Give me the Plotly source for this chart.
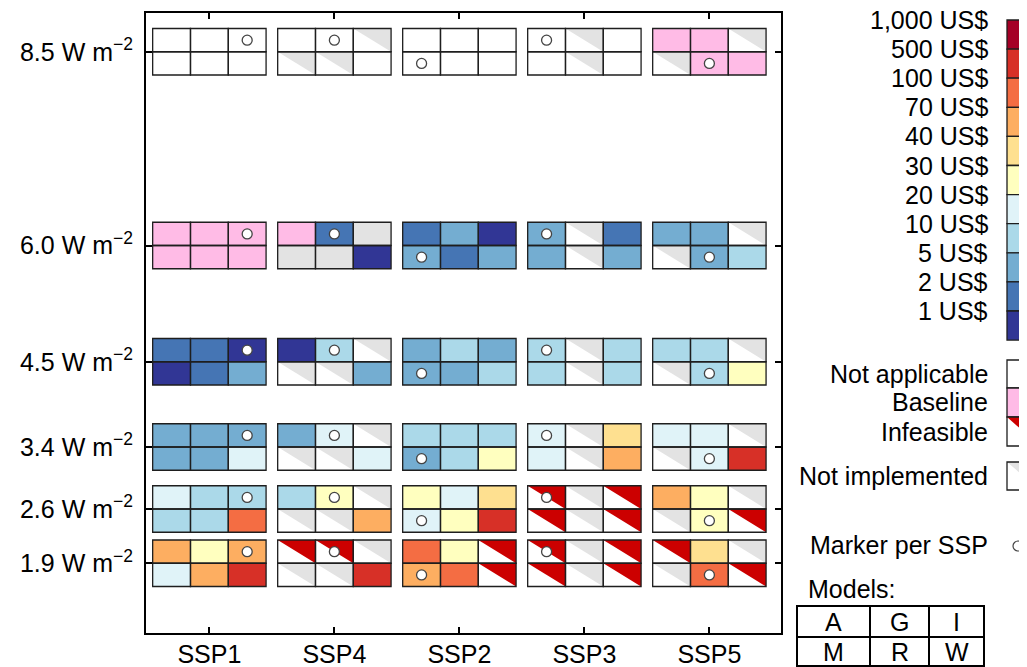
import plotly.graph_objects as go

# ---------------- data ----------------
ssps = ["SSP1", "SSP4", "SSP2", "SSP3", "SSP5"]
forcing = [8.5, 6.0, 4.5, 3.4, 2.6, 1.9]
forcing_labels = ["8.5 W m<sup>−2</sup>", "6.0 W m<sup>−2</sup>", "4.5 W m<sup>−2</sup>",
                  "3.4 W m<sup>−2</sup>", "2.6 W m<sup>−2</sup>", "1.9 W m<sup>−2</sup>"]
models = ["A", "G", "I", "M", "R", "W"]

price_labels = ["1,000 US$", "500 US$", "100 US$", "70 US$", "40 US$", "30 US$",
                "20 US$", "10 US$", "5 US$", "2 US$", "1 US$"]
price_bins = ["500-1000", "100-500", "70-100", "40-70", "30-40", "20-30",
              "10-20", "5-10", "2-5", "1-2", "<1"]
price_colors = ["#a50026", "#d73027", "#f46d43", "#fdae61", "#fee090", "#ffffbf",
                "#e0f3f8", "#abd9e9", "#74add1", "#4575b4", "#313695"]

# cell status per SSP (order of ssps), models A G I / M R W
# NA = not applicable, BL = baseline, IF = infeasible, NI = not implemented, NR = no result (grey)
cells_85 = [
    ["NA", "NA", "NA", "NA", "NA", "NA"],
    ["NA", "NA", "NI", "NI", "NI", "NA"],
    ["NA", "NA", "NA", "NA", "NA", "NA"],
    ["NA", "NI", "NA", "NA", "NI", "NA"],
    ["BL", "BL", "NI", "NI", "BL", "BL"],
]
cells_60 = [
    ["BL", "BL", "BL", "BL", "BL", "BL"],
    ["BL", "1-2", "NR", "NR", "NR", "<1"],
    ["1-2", "2-5", "<1", "2-5", "1-2", "2-5"],
    ["2-5", "NI", "1-2", "2-5", "NI", "2-5"],
    ["2-5", "2-5", "NI", "NI", "2-5", "5-10"],
]
cells_45 = [
    ["1-2", "1-2", "<1", "<1", "1-2", "2-5"],
    ["<1", "5-10", "NI", "NI", "NI", "2-5"],
    ["2-5", "5-10", "2-5", "2-5", "2-5", "5-10"],
    ["5-10", "NI", "5-10", "5-10", "NI", "5-10"],
    ["5-10", "5-10", "NI", "NI", "5-10", "20-30"],
]
cells_34 = [
    ["2-5", "2-5", "2-5", "2-5", "2-5", "10-20"],
    ["2-5", "10-20", "NI", "NI", "NI", "10-20"],
    ["5-10", "5-10", "5-10", "2-5", "5-10", "20-30"],
    ["10-20", "NI", "30-40", "10-20", "NI", "40-70"],
    ["10-20", "10-20", "NI", "NI", "10-20", "100-500"],
]
cells_26 = [
    ["10-20", "5-10", "5-10", "5-10", "5-10", "70-100"],
    ["5-10", "20-30", "NI", "NI", "NI", "40-70"],
    ["20-30", "10-20", "30-40", "10-20", "20-30", "100-500"],
    ["IF", "NI", "IF", "IF", "NI", "IF"],
    ["40-70", "20-30", "NI", "NI", "20-30", "IF"],
]
cells_19 = [
    ["40-70", "20-30", "40-70", "10-20", "40-70", "100-500"],
    ["IF", "IF", "NI", "NI", "NI", "100-500"],
    ["70-100", "20-30", "IF", "40-70", "70-100", "IF"],
    ["IF", "NI", "IF", "IF", "NI", "IF"],
    ["IF", "30-40", "NI", "NI", "70-100", "IF"],
]
marker_model = ["I", "G", "M", "A", "R"]  # marker scenario per SSP

all_cells = [cells_85, cells_60, cells_45, cells_34, cells_26, cells_19]

# ---------------- styles ----------------
CW = 0.3024   # cell width (x units)
CH = 0.30     # cell height (y units)
PINK = "#ffbbe6"
GREY = "#e3e3e3"
RED = "#cc0000"
EDGE = "#1e1e1e"
FONT = "Liberation Sans, Arial, Helvetica, sans-serif"
FS = 25

# page offset of the browser body (8 px) is compensated in the figure size/margins
OFF = 8
FIG_W, FIG_H = 1027 - OFF, 667 - OFF

color_of = dict(zip(price_bins, price_colors))
color_of.update({"NA": "white", "BL": PINK, "IF": "white", "NI": "white", "NR": GREY})

fills, tris, outlines = [], [], []
for fi, f in enumerate(forcing):
    for j, s in enumerate(ssps):
        codes = all_cells[fi][j]
        for k, code in enumerate(codes):
            c, r = k % 3, k // 3
            x0 = j - 1.5 * CW + c * CW
            x1 = x0 + CW
            y1 = f + CH if r == 0 else f
            y0 = y1 - CH
            fills.append(dict(type="rect", xref="x", yref="y", x0=x0, x1=x1, y0=y0, y1=y1,
                              fillcolor=color_of[code], line=dict(width=0), layer="below"))
            if code in ("IF", "NI"):
                tris.append(dict(type="path", xref="x", yref="y",
                                 path=f"M {x0},{y1} L {x1},{y1} L {x1},{y0} Z",
                                 fillcolor=RED if code == "IF" else GREY,
                                 line=dict(width=0), layer="below"))
            outlines.append(dict(type="rect", xref="x", yref="y", x0=x0, x1=x1, y0=y0, y1=y1,
                                 fillcolor="rgba(0,0,0,0)", line=dict(color=EDGE, width=1.3),
                                 layer="below"))

# markers
mx, my = [], []
for fi, f in enumerate(forcing):
    for j, s in enumerate(ssps):
        k = models.index(marker_model[j])
        c, r = k % 3, k // 3
        mx.append(j + (c - 1) * CW)
        my.append(f + CH / 2 if r == 0 else f - CH / 2)

fig = go.Figure()
fig.add_trace(go.Scatter(x=mx, y=my, mode="markers", hoverinfo="skip",
                         marker=dict(symbol="circle", size=10, color="white",
                                     line=dict(color="#444444", width=1.3)),
                         showlegend=False))

# ---------------- legend (paper coords; reference-pixel positions) ----------------
L, R_, T, B = 146, 781, 13, 633


def px(x):
    return (x - L) / (R_ - L)


def py(y):
    return (B - y) / (B - T)


legend_shapes = []
annots = []
box_x0, box_x1 = px(1007), px(1050)
lab_x = px(990)
top, step = 20, 29.1
for i, col in enumerate(price_colors):
    legend_shapes.append(dict(type="rect", xref="paper", yref="paper",
                              x0=box_x0, x1=box_x1, y0=py(top + (i + 1) * step), y1=py(top + i * step),
                              fillcolor=col, line=dict(color=EDGE, width=1.3)))
for i, lab in enumerate(price_labels):
    annots.append(dict(xref="paper", yref="paper", x=lab_x, y=py(top + i * step),
                       text=lab, showarrow=False, xanchor="right", yanchor="middle",
                       font=dict(size=FS, family=FONT, color="black")))

cat_boxes = [("Not applicable", 360, 388, "NA"), ("Baseline", 388, 417, "BL"),
             ("Infeasible", 417, 446, "IF"), ("Not implemented", 462, 490, "NI")]
for name, ya, yb, code in cat_boxes:
    legend_shapes.append(dict(type="rect", xref="paper", yref="paper",
                              x0=box_x0, x1=box_x1, y0=py(yb), y1=py(ya),
                              fillcolor=PINK if code == "BL" else "white", line=dict(width=0)))
    if code in ("IF", "NI"):
        legend_shapes.append(dict(type="path", xref="paper", yref="paper",
                                  path=f"M {box_x0},{py(ya)} L {px(1040)},{py(ya)} L {px(1040)},{py(yb)} Z",
                                  fillcolor=RED if code == "IF" else GREY, line=dict(width=0)))
    legend_shapes.append(dict(type="rect", xref="paper", yref="paper",
                              x0=box_x0, x1=box_x1, y0=py(yb), y1=py(ya),
                              fillcolor="rgba(0,0,0,0)", line=dict(color=EDGE, width=1.3)))
    annots.append(dict(xref="paper", yref="paper", x=lab_x, y=py((ya + yb) / 2),
                       text=name, showarrow=False, xanchor="right", yanchor="middle",
                       font=dict(size=FS, family=FONT, color="black")))

annots.append(dict(xref="paper", yref="paper", x=lab_x, y=py(545), text="Marker per SSP",
                   showarrow=False, xanchor="right", yanchor="middle",
                   font=dict(size=FS, family=FONT, color="black")))
legend_shapes.append(dict(type="circle", xref="paper", yref="paper",
                          x0=px(1013), x1=px(1023), y0=py(551), y1=py(541),
                          fillcolor="white", line=dict(color="#444444", width=1.2)))

annots.append(dict(xref="paper", yref="paper", x=px(806), y=py(589), text="Models:",
                   showarrow=False, xanchor="left", yanchor="middle",
                   font=dict(size=FS, family=FONT, color="black")))
tab_x = [797, 870, 929, 984]
tab_y = [606, 637, 666]
legend_shapes.append(dict(type="rect", xref="paper", yref="paper",
                          x0=px(tab_x[0]), x1=px(tab_x[3]), y0=py(tab_y[2]), y1=py(tab_y[0]),
                          line=dict(color="black", width=2)))
for xv in tab_x[1:3]:
    legend_shapes.append(dict(type="line", xref="paper", yref="paper",
                              x0=px(xv), x1=px(xv), y0=py(tab_y[2]), y1=py(tab_y[0]),
                              line=dict(color="black", width=2)))
legend_shapes.append(dict(type="line", xref="paper", yref="paper",
                          x0=px(tab_x[0]), x1=px(tab_x[3]), y0=py(tab_y[1]), y1=py(tab_y[1]),
                          line=dict(color="black", width=2)))
for k, m in enumerate(models):
    c, r = k % 3, k // 3
    annots.append(dict(xref="paper", yref="paper",
                       x=px((tab_x[c] + tab_x[c + 1]) / 2), y=py((tab_y[r] + tab_y[r + 1]) / 2),
                       text=m, showarrow=False, xanchor="center", yanchor="middle",
                       font=dict(size=FS, family=FONT, color="black")))

fig.update_layout(
    width=FIG_W, height=FIG_H,
    margin=dict(l=L - OFF, r=FIG_W - (R_ - OFF), t=T - OFF, b=FIG_H - (B - OFF), autoexpand=False),
    paper_bgcolor="white", plot_bgcolor="white",
    shapes=fills + tris + outlines + legend_shapes,
    annotations=annots,
    showlegend=False,
    font=dict(family=FONT, size=FS, color="black"),
    xaxis=dict(range=[-0.507, 4.573], tickmode="array", tickvals=list(range(len(ssps))),
               ticktext=ssps, ticks="inside", ticklen=6, tickwidth=2, tickcolor="black",
               showline=True, linewidth=2, linecolor="black", mirror="ticks",
               showgrid=False, zeroline=False, tickfont=dict(size=FS, family=FONT),
               automargin=False, ticklabelstandoff=-2),
    yaxis=dict(range=[1.0, 9.0], tickmode="array", tickvals=forcing, ticktext=forcing_labels,
               ticks="inside", ticklen=6, tickwidth=2, tickcolor="black",
               showline=True, linewidth=2, linecolor="black", mirror="ticks",
               showgrid=False, zeroline=False, tickfont=dict(size=FS, family=FONT),
               automargin=False, ticklabelstandoff=6),
)

fig.write_html("out.html")
